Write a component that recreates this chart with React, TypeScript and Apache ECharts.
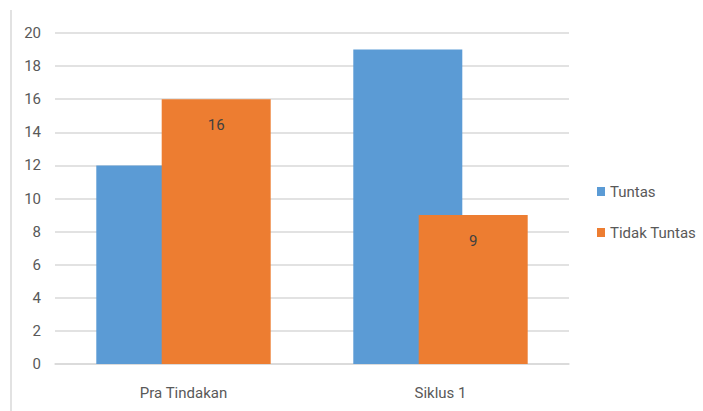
import React, { useEffect, useRef } from "react";
import * as echarts from "echarts";

const categories = ["Pra Tindakan", "Siklus 1"];
const tuntas = [12, 19];
const tidakTuntas = [16, 9];
const seriesNames = ["Tuntas", "Tidak Tuntas"];

const FONT = "Roboto, 'Open Sans', sans-serif";

export default function App() {
  const ref = useRef<HTMLDivElement>(null);
  useEffect(() => {
    document.body.style.margin = "0";
    const chart = echarts.init(ref.current!, null, { renderer: "svg" });
    chart.setOption({
      animation: false,
      backgroundColor: "#ffffff",
      textStyle: { fontFamily: FONT },
      grid: { left: 55, right: 134, top: 33, bottom: 47 },
      legend: {
        orient: "vertical",
        left: 592,
        top: 179,
        itemWidth: 8,
        itemHeight: 9,
        itemGap: 26,
        icon: "rect",
        textStyle: { fontFamily: FONT, fontSize: 15, color: "#595959" },
        data: seriesNames,
      },
      xAxis: {
        type: "category",
        data: categories,
        axisLine: { show: true, lineStyle: { color: "#d9d9d9", width: 1.5 } },
        axisTick: { show: false },
        axisLabel: { fontFamily: FONT, fontSize: 15, color: "#595959", margin: 21 },
      },
      yAxis: {
        type: "value",
        min: 0,
        max: 20,
        interval: 2,
        axisLine: { show: false },
        axisTick: { show: false },
        splitLine: { lineStyle: { color: "#d9d9d9", width: 1.5 } },
        axisLabel: { fontFamily: FONT, fontSize: 15, color: "#595959", margin: 14 },
      },
      graphic: [
        {
          type: "line",
          shape: { x1: 11, y1: 10, x2: 11, y2: 411 },
          style: { stroke: "#d9d9d9", lineWidth: 1.5 },
        },
      ],
      series: [
        {
          name: seriesNames[0],
          type: "bar",
          data: tuntas,
          barWidth: 109,
          barGap: "-40%",
          itemStyle: { color: "#5B9BD5" },
        },
        {
          name: seriesNames[1],
          type: "bar",
          data: tidakTuntas,
          barWidth: 109,
          itemStyle: { color: "#ED7D31" },
          label: {
            show: true,
            position: "insideTop",
            distance: 18,
            fontFamily: FONT,
            fontSize: 15,
            color: "#404040",
          },
        },
      ],
    });
    return () => chart.dispose();
  }, []);
  return <div ref={ref} style={{ width: 703, height: 411 }} />;
}
